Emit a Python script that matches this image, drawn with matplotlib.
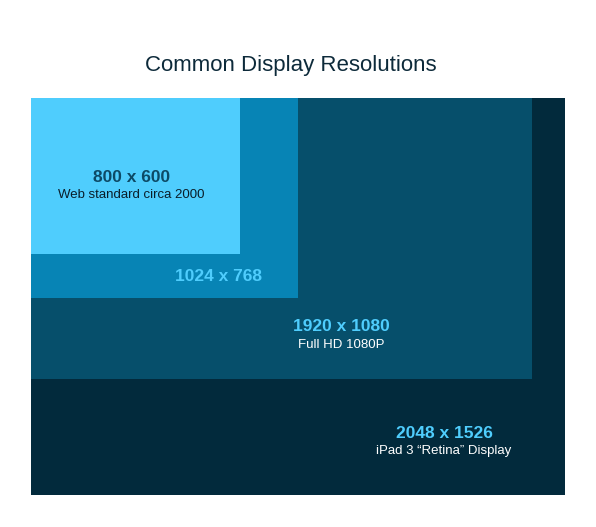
import matplotlib.pyplot as plt
from matplotlib.patches import Rectangle

plt.rcParams['font.family'] = ['Liberation Sans', 'DejaVu Sans']

# resolutions, largest first so smaller ones draw on top
widths = [2048, 1920, 1024, 800]
heights = [1526, 1080, 768, 600]
colors = ['#022a3c', '#064f6b', '#0784b5', '#4fcdfd']
labels = ['2048 x 1526', '1920 x 1080', '1024 x 768', '800 x 600']
subtitles = ['iPad 3 \u201cRetina\u201d Display', 'Full HD 1080P', '', 'Web standard circa 2000']
label_x = [1584, 1189, 721, 384]
label_y = [1288, 880, 688, 304]
label_colors = ['#4fcdfd', '#4fcdfd', '#4fcdfd', '#0d4a66']
sub_colors = ['white', 'white', 'white', '#0a1e2a']

fig = plt.figure(figsize=(5.96, 5.27), dpi=100)
ax = fig.add_axes([31 / 596, 32 / 527, 534 / 596, 397 / 527])

for w, h, c in zip(widths, heights, colors):
    ax.add_patch(Rectangle((0, 0), w, h, facecolor=c, edgecolor='none'))

for lab, sub, x, y, lc, sc in zip(labels, subtitles, label_x, label_y, label_colors, sub_colors):
    ax.text(x, y, lab, ha='center', va='center', fontsize=12.5, fontweight='bold', color=lc)
    if sub:
        ax.text(x, y + 70, sub, ha='center', va='center', fontsize=9.5, color=sc)

ax.set_xlim(0, 2048)
ax.set_ylim(1526, 0)
ax.axis('off')

fig.text(291 / 596, 1 - 66 / 527, 'Common Display Resolutions', ha='center', va='center',
         fontsize=16, color='#0d2a3a')

fig.savefig('out.png', dpi=100)
